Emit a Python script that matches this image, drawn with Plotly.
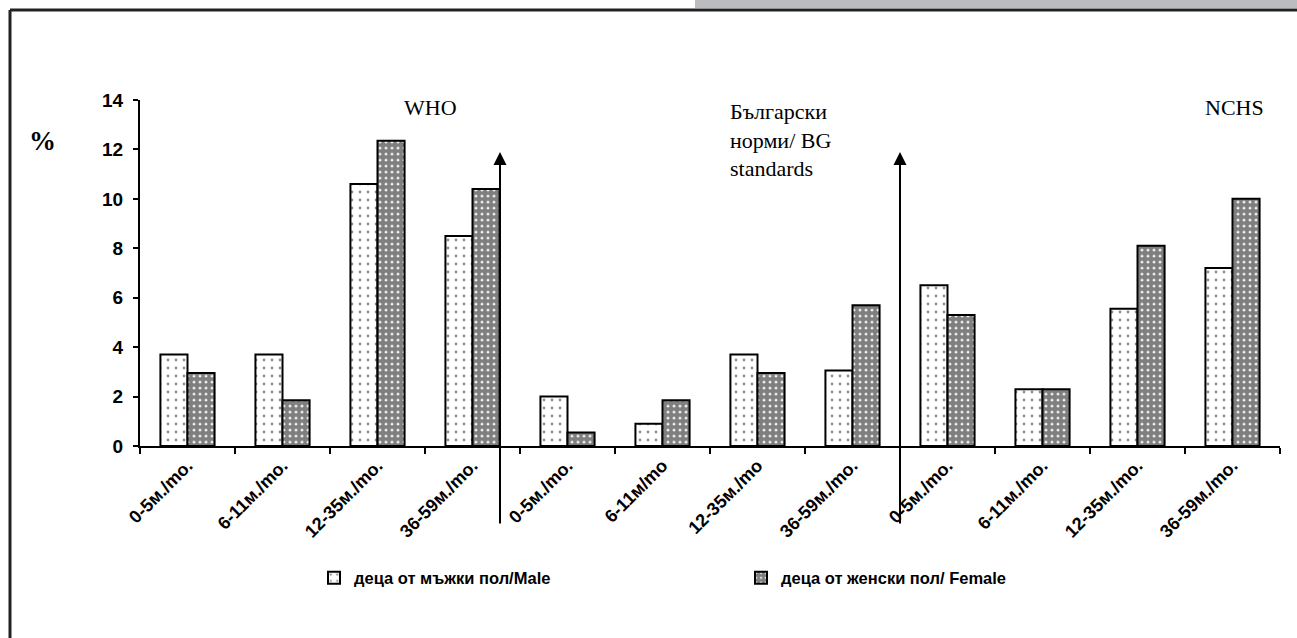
import plotly.graph_objects as go

# Age groups under three reference standards (WHO, Bulgarian, NCHS)
age_labels = ["0-5м./mo.", "6-11м./mo.", "12-35м./mo.", "36-59м./mo.",
              "0-5м./mo.", "6-11м/mo", "12-35м./mo", "36-59м./mo.",
              "0-5м./mo.", "6-11м./mo.", "12-35м./mo.", "36-59м./mo."]
male = [3.7, 3.7, 10.6, 8.5, 2.0, 0.9, 3.7, 3.05, 6.5, 2.3, 5.55, 7.2]
female = [2.95, 1.85, 12.35, 10.4, 0.55, 1.85, 2.95, 5.7, 5.3, 2.3, 8.1, 10.0]
y_ticks = [0, 2, 4, 6, 8, 10, 12, 14]

W, H = 1297, 638
positions = list(range(len(age_labels)))

def px(x):
    return x / W

def py(y):
    return 1 - y / H

sans = "Liberation Sans, Arial"
serif_family = "Liberation Serif, Times New Roman"
xtick_font = dict(family=sans, size=18, color="black", weight="bold")
ytick_font = dict(family=sans, size=19, color="black", weight="bold")
serif = dict(family=serif_family, size=22, color="black")

fig = go.Figure()
fig.add_trace(go.Bar(
    x=positions, y=male, name="деца от мъжки пол/Male",
    marker=dict(color="white", line=dict(color="black", width=2),
                pattern=dict(shape=".", fgcolor="#222", bgcolor="white",
                             size=8, solidity=0.1)),
))
fig.add_trace(go.Bar(
    x=positions, y=female, name="деца от женски пол/ Female",
    marker=dict(color="white", line=dict(color="black", width=2),
                pattern=dict(shape=".", fgcolor="black", bgcolor="white",
                             size=6, solidity=0.8)),
))

fig.update_layout(
    width=W, height=H, autosize=False,
    margin=dict(l=0, r=0, t=0, b=0, pad=0, autoexpand=False),
    plot_bgcolor="white", paper_bgcolor="white",
    barmode="group", bargap=0.43, bargroupgap=0,
    showlegend=True,
    legend=dict(orientation="h", x=px(314), y=py(578), yanchor="middle",
                xanchor="left",
                font=dict(family=sans, size=16.5, color="black", weight="bold"),
                entrywidth=382, entrywidthmode="pixels", itemwidth=30,
                bgcolor="rgba(0,0,0,0)"),
    xaxis=dict(
        domain=[px(140), px(1280)], range=[-0.5, 11.5], automargin=False,
        tickmode="array", tickvals=positions, ticktext=age_labels,
        tickangle=-45, ticks="", tickfont=xtick_font,
        showline=True, linecolor="black", linewidth=2,
        showgrid=False, zeroline=False, fixedrange=True,
        minor=dict(tick0=-0.5, dtick=1, ticks="outside", ticklen=6,
                   tickwidth=2, tickcolor="black", showgrid=False),
    ),
    yaxis=dict(
        domain=[py(446), py(100)], range=[0, 14], automargin=False,
        tickmode="array", tickvals=y_ticks,
        ticks="outside", ticklen=5, tickwidth=2, tickcolor="black",
        tickfont=ytick_font, ticklabelstandoff=6,
        showline=True, linecolor="black", linewidth=2,
        showgrid=False, zeroline=False, fixedrange=True,
    ),
)

# Frame and the grey strip at the top right
fig.add_shape(type="rect", xref="paper", yref="paper",
              x0=px(695), x1=1, y0=py(8), y1=1,
              fillcolor="#bbbcc0", line_width=0, layer="below")
fig.add_shape(type="line", xref="paper", yref="paper",
              x0=px(10), x1=1, y0=py(10), y1=py(10),
              line=dict(color="#222", width=3))
fig.add_shape(type="line", xref="paper", yref="paper",
              x0=px(10), x1=px(10), y0=py(10), y1=0,
              line=dict(color="#222", width=3))

# Vertical arrows separating the three standards
for xp in (500, 900):
    fig.add_annotation(xref="paper", yref="paper", x=px(xp), y=py(152),
                       ax=0, ay=373, axref="pixel", ayref="pixel",
                       text="", showarrow=True, arrowhead=2, arrowsize=1.3,
                       arrowwidth=2, arrowcolor="black")

# Section titles and axis unit
fig.add_annotation(xref="paper", yref="paper", x=px(430), y=py(107),
                   text="WHO", showarrow=False, font=serif,
                   xanchor="center", yanchor="middle")
fig.add_annotation(xref="paper", yref="paper", x=px(728), y=py(140),
                   text="Български<br>норми/ BG<br>standards", showarrow=False,
                   font=serif, align="left", xanchor="left", yanchor="middle")
fig.add_annotation(xref="paper", yref="paper", x=px(1234), y=py(107),
                   text="NCHS", showarrow=False, font=serif,
                   xanchor="center", yanchor="middle")
fig.add_annotation(xref="paper", yref="paper", x=px(42), y=py(141),
                   text="%", showarrow=False,
                   font=dict(family=serif_family, size=27, color="black",
                             weight="bold"),
                   xanchor="center", yanchor="middle")

fig.write_html("out.html", config={"displayModeBar": False},
               post_script="document.body.style.margin='0';"
                           "document.body.style.overflow='hidden';")
